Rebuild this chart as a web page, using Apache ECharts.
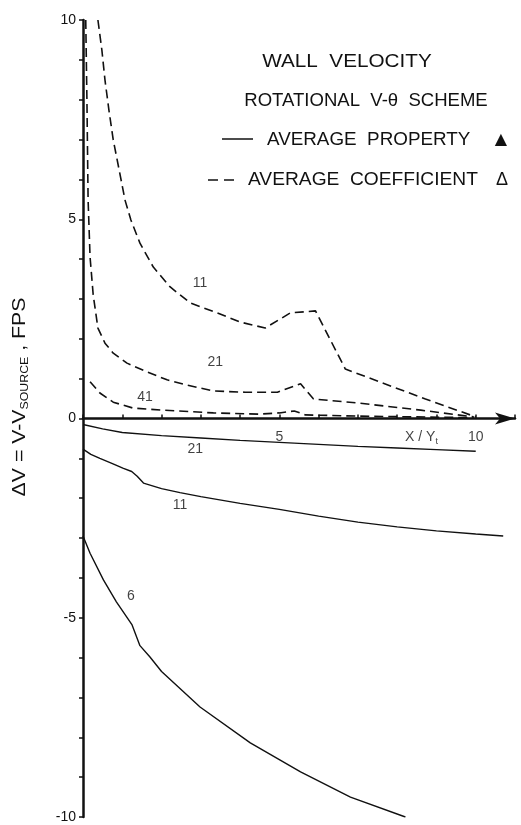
<!DOCTYPE html>
<html>
<head>
<meta charset="utf-8">
<script src="https://cdn.jsdelivr.net/npm/echarts@6/dist/echarts.min.js"></script>
<style>
  html, body { margin: 0; padding: 0; background: #fff; }
  #chart { width: 521px; height: 825px; }
</style>
</head>
<body>
<div id="chart"></div>
<script>
// Wall velocity deviation ΔV (FPS) versus X/Yt, rotational V-θ scheme

// Average coefficient (dashed) curves
const coef11X = [0.38, 0.48, 0.56, 0.66, 0.77, 0.92, 1.07, 1.22, 1.45, 1.79, 2.22, 2.73, 3.42, 4.0, 4.64, 5.28, 5.92, 6.68, 8.72, 10.0];
const coef11Y = [10.0, 9.25, 8.49, 7.74, 6.99, 6.24, 5.48, 4.98, 4.40, 3.80, 3.30, 2.90, 2.65, 2.42, 2.27, 2.65, 2.70, 1.24, 0.49, 0.04];

const coef21X = [0.07, 0.10, 0.13, 0.18, 0.26, 0.38, 0.56, 0.77, 1.12, 1.63, 2.14, 2.65, 3.32, 4.13, 4.95, 5.54, 5.87, 6.99, 8.6, 9.95];
const coef21Y = [10.0, 8.0, 5.48, 4.05, 3.10, 2.27, 1.89, 1.64, 1.39, 1.17, 0.97, 0.84, 0.69, 0.66, 0.66, 0.87, 0.49, 0.39, 0.21, 0.04];

const coef41X = [0.18, 0.43, 0.77, 1.28, 2.04, 3.32, 4.5, 5.0, 5.38, 5.66, 6.99, 9.95];
const coef41Y = [0.92, 0.64, 0.41, 0.26, 0.21, 0.14, 0.11, 0.14, 0.19, 0.09, 0.06, 0.02];

// Average property (solid) curves
const prop21X = [0, 0.5, 1, 2, 3, 4, 5, 6, 7, 8, 9, 10];
const prop21Y = [-0.15, -0.26, -0.35, -0.43, -0.49, -0.55, -0.60, -0.65, -0.70, -0.74, -0.78, -0.82];

const prop11X = [0, 0.2, 0.43, 0.75, 1.03, 1.24, 1.38, 1.54, 2.0, 2.47, 3, 4, 5, 6, 7, 8, 9, 10, 10.7];
const prop11Y = [-0.77, -0.90, -1.00, -1.13, -1.25, -1.33, -1.45, -1.62, -1.76, -1.86, -1.96, -2.13, -2.28, -2.45, -2.60, -2.72, -2.82, -2.90, -2.95];

const prop6X = [0, 0.18, 0.52, 0.85, 1.25, 1.45, 1.70, 2.0, 2.98, 4.26, 5.54, 6.81, 8.21];
const prop6Y = [-2.95, -3.38, -4.05, -4.60, -5.18, -5.70, -5.98, -6.35, -7.24, -8.14, -8.87, -9.50, -10.0];

// Curve annotations (grid count) placed in data units
const noteX = [2.98, 3.37, 1.58, 2.86, 2.47, 1.22, 8.62];
const noteY = [3.40, 1.42, 0.54, -0.77, -2.17, -4.45, -0.47];
const noteText = ['11', '21', '41', '21', '11', '6', 'X / Y{t|t}'];

// Tick labels shown on the axes
const xTickLabels = [5, 10];
const yTickLabels = [-10, -5, 0, 5, 10];
const xTickLabelY = -0.46;   // x tick labels sit just under the zero line

const FONT = '"Liberation Sans", Arial, sans-serif';
const INK = '#111';

function pairs(xs, ys) { return xs.map((x, i) => [x, ys[i]]); }

function curve(name, xs, ys, dashed) {
  return {
    name: name,
    type: 'line',
    data: pairs(xs, ys),
    symbol: 'none',
    smooth: false,
    silent: true,
    lineStyle: dashed
      ? { color: INK, width: 1.6, type: [9, 5] }
      : { color: INK, width: 1.4, type: 'solid' }
  };
}

function textSeries(name, items, rich) {
  return {
    name: name,
    type: 'scatter',
    symbolSize: 0,
    silent: true,
    data: items,
    label: {
      show: true, position: 'inside', color: INK,
      fontFamily: FONT, fontSize: 14,
      formatter: p => p.name,
      rich: rich || {}
    }
  };
}

const chart = echarts.init(document.getElementById('chart'), null, { renderer: 'canvas' });

const option = {
  animation: false,
  backgroundColor: '#fff',
  grid: { left: 83, right: 6, top: 20, bottom: 8, containLabel: false },
  xAxis: {
    type: 'value', min: 0, max: 11, interval: 1,
    axisLine: {
      onZero: true,
      symbol: ['none', 'arrow'], symbolSize: [9, 20],
      lineStyle: { color: INK, width: 2.5 }
    },
    axisTick: { inside: true, length: 4, lineStyle: { color: INK, width: 1.5 } },
    axisLabel: { show: false },
    splitLine: { show: false }
  },
  yAxis: {
    type: 'value', min: -10, max: 10, interval: 1,
    axisLine: { onZero: false, lineStyle: { color: INK, width: 2.5 } },
    axisTick: { inside: false, length: 4, lineStyle: { color: INK, width: 1.5 } },
    axisLabel: {
      margin: 7, color: INK, fontFamily: FONT, fontSize: 14,
      formatter: v => (yTickLabels.includes(v) ? String(v) : '')
    },
    splitLine: { show: false }
  },
  series: [
    curve('coef11', coef11X, coef11Y, true),
    curve('coef21', coef21X, coef21Y, true),
    curve('coef41', coef41X, coef41Y, true),
    curve('prop21', prop21X, prop21Y, false),
    curve('prop11', prop11X, prop11Y, false),
    curve('prop6', prop6X, prop6Y, false),
    textSeries('notes',
      noteX.map((x, i) => ({ value: [x, noteY[i]], name: noteText[i] })),
      { t: { fontFamily: FONT, fontSize: 9, padding: [9, 0, 0, 0], color: INK } }),
    textSeries('xTickLabels',
      xTickLabels.map(v => ({ value: [v, xTickLabelY], name: String(v) })))
  ],
  graphic: [
    {
      type: 'text', x: 347, y: 62, scaleX: 1.15,
      style: { text: 'WALL  VELOCITY', fontFamily: FONT, fontSize: 18, fill: INK, align: 'center', verticalAlign: 'middle' }
    },
    {
      type: 'text', x: 366, y: 101, scaleX: 1.03,
      style: { text: 'ROTATIONAL  V-θ  SCHEME', fontFamily: FONT, fontSize: 18, fill: INK, align: 'center', verticalAlign: 'middle' }
    },
    {
      type: 'line', shape: { x1: 222, y1: 139, x2: 253, y2: 139 },
      style: { stroke: INK, lineWidth: 1.5 }
    },
    {
      type: 'text', x: 267, y: 140, scaleX: 1.046,
      style: { text: 'AVERAGE  PROPERTY', fontFamily: FONT, fontSize: 18, fill: INK, align: 'left', verticalAlign: 'middle' }
    },
    {
      type: 'text', x: 501, y: 140,
      style: { text: '▲', fontFamily: '"DejaVu Sans", sans-serif', fontSize: 16, fill: INK, align: 'center', verticalAlign: 'middle' }
    },
    {
      type: 'line', shape: { x1: 208, y1: 180, x2: 237, y2: 180 },
      style: { stroke: INK, lineWidth: 1.5, lineDash: [10, 6] }
    },
    {
      type: 'text', x: 248, y: 180, scaleX: 1.066,
      style: { text: 'AVERAGE  COEFFICIENT', fontFamily: FONT, fontSize: 18, fill: INK, align: 'left', verticalAlign: 'middle' }
    },
    {
      type: 'text', x: 502, y: 180,
      style: { text: 'Δ', fontFamily: FONT, fontSize: 18, fill: INK, align: 'center', verticalAlign: 'middle' }
    },
    {
      type: 'text', x: 20, y: 397, rotation: Math.PI / 2, scaleX: 1.12,
      style: {
        text: '{a|ΔV = V-V}{s|SOURCE}{a| , FPS}',
        align: 'center', verticalAlign: 'middle',
        rich: {
          a: { fontFamily: FONT, fontSize: 19, fill: INK, color: INK },
          s: { fontFamily: FONT, fontSize: 11, fill: INK, color: INK, padding: [10, 0, 0, 0] }
        }
      }
    }
  ]
};

chart.setOption(option);
</script>
</body>
</html>
